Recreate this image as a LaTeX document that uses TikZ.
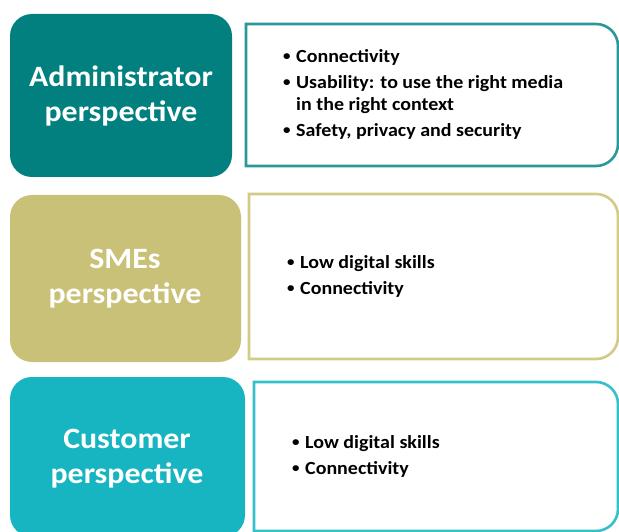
\documentclass[tikz,border=0pt]{standalone}
\usepackage{fontspec}
\setmainfont{Carlito}
\newfontfamily\wideCal[FakeStretch=1.08]{Carlito}
\definecolor{tealA}{HTML}{028080}
\definecolor{tealB}{HTML}{2A9898}
\definecolor{oliveA}{HTML}{C9C177}
\definecolor{oliveB}{HTML}{D2CB86}
\definecolor{cyanA}{HTML}{17B4C2}
\definecolor{cyanB}{HTML}{35C0CC}
\tikzset{
  titlebox/.style={rounded corners=22pt},
  titletext/.style={text=white, align=center, font=\wideCal\bfseries\fontsize{29.5}{35}\selectfont},
  listbox/.style={line width=2.6pt, fill=white},
  listtext/.style={anchor=west, align=left, font=\wideCal\bfseries\fontsize{18.5}{22}\selectfont, inner sep=0pt}
}
\newcommand{\bitem}{\makebox[13pt][l]{\raisebox{0.18ex}{\scalebox{0.75}{\textbullet}}}}
\begin{document}
\begin{tikzpicture}[x=1pt,y=-1pt]
\useasboundingbox (0,0) rectangle (619,532);
\begin{scope}
\clip (0,0) rectangle (619,532);
% row 1
\fill[tealA, titlebox] (10,14) rectangle (232,177);
\node[titletext] (t1) at (121,96) {Administrator\\perspective};
\draw[tealB, listbox] (400,24) [rounded corners=22pt] -- (618,24) -- (618,166) -- (400,166) [sharp corners] -- (246,166) -- (246,24) -- cycle;
\node[listtext] (l1) at (283,94) {\bitem Connectivity\\[4pt]\bitem Usability: to use the right media\\\hspace*{13pt}in the right context\\[4pt]\bitem Safety, privacy and security};
% row 2
\fill[oliveA, titlebox] (10,195) rectangle (241,362);
\node[titletext] (t2) at (125,279) {SMEs\\perspective};
\draw[oliveB, listbox] (400,194) [rounded corners=22pt] -- (618,194) -- (618,359) -- (400,359) [sharp corners] -- (249,359) -- (249,194) -- cycle;
\node[listtext] (l2) at (287,276) {\bitem Low digital skills\\[4pt]\bitem Connectivity};
% row 3
\fill[cyanA, titlebox] (10,377) rectangle (245,537);
\node[titletext] (t3) at (127,459) {Customer\\perspective};
\draw[cyanB, listbox] (400,382) [rounded corners=22pt] -- (618,382) -- (618,531) -- (400,531) [sharp corners] -- (254,531) -- (254,382) -- cycle;
\node[listtext] (l3) at (292,456) {\bitem Low digital skills\\[4pt]\bitem Connectivity};
\end{scope}
\end{tikzpicture}
\end{document}
